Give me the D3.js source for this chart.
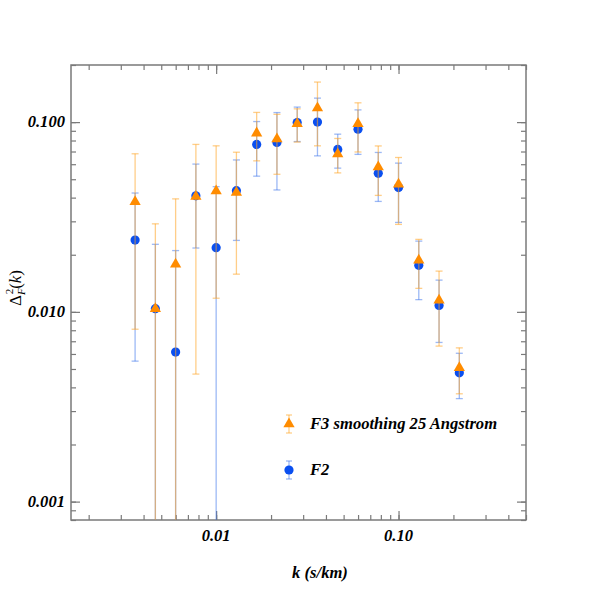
<!DOCTYPE html>
<head>
    <meta charset="utf-8">
    <style>
        body { margin: 0; background: #fff; }
        text { font-family: "Liberation Serif", "DejaVu Serif", serif; }
        .lbl { font-weight: bold; font-style: italic; font-size: 16.6px; fill: #000; }
    </style>
</head>
<body>
    <div id="chart"></div>
    <script src="https://d3js.org/d3.v7.min.js"></script>
    <script>
        // wavenumbers k (s/km)
        var kValues = [0.003594, 0.004642, 0.005995, 0.007743, 0.01, 0.012915, 0.016681, 0.021544,
                       0.027826, 0.035938, 0.046416, 0.059948, 0.077426, 0.1, 0.129155, 0.16681, 0.215443];

        // F2 (blue circles)
        var f2Values = [0.0239, 0.0104, 0.00614, 0.0409, 0.0218, 0.0435, 0.0763, 0.0781,
                        0.0995, 0.1001, 0.0718, 0.0918, 0.0537, 0.0452, 0.0176, 0.0108, 0.00477];
        var f2Errors = [0.0184, 0.0123, 0.0149, 0.0192, 0.0239, 0.0197, 0.0244, 0.0342,
                        0.0205, 0.0337, 0.0146, 0.0242, 0.0155, 0.0156, 0.0060, 0.0039, 0.00128];

        // F3 smoothing 25 Angstrom (orange triangles)
        var f3Values = [0.0381, 0.0104, 0.0178, 0.0405, 0.0434, 0.0426, 0.0875, 0.0815,
                        0.0980, 0.1188, 0.0680, 0.0980, 0.0580, 0.0470, 0.0187, 0.0115, 0.00508];
        var f3Errors = [0.0300, 0.0187, 0.0216, 0.0358, 0.0316, 0.0268, 0.0250, 0.0284,
                        0.0195, 0.0438, 0.0140, 0.0284, 0.0169, 0.0181, 0.0054, 0.0049, 0.00138];

        var xMajor = [0.01, 0.1];
        var xMajorLabels = ["0.01", "0.10"];
        var yMajor = [0.001, 0.01, 0.1];
        var yMajorLabels = ["0.001", "0.010", "0.100"];

        var W = 591, H = 591;
        var pLeft = 71, pRight = 526, pTop = 65, pBottom = 520;

        var x = d3.scaleLog().domain([0.0016, 0.5]).range([pLeft, pRight]);
        var y = d3.scaleLog().domain([0.0008, 0.2]).range([pBottom, pTop]);

        function minorTicks(scale) {
            var d = scale.domain(), out = [];
            for (var e = -4; e <= 0; e++) {
                for (var m = 1; m <= 9; m++) {
                    var v = m * Math.pow(10, e);
                    if (v >= d[0] * 0.999 && v <= d[1] * 1.001) out.push(v);
                }
            }
            return out;
        }
        var xMinor = minorTicks(x), yMinor = minorTicks(y);

        var svg = d3.select("#chart").append("svg")
            .attr("width", W).attr("height", H);

        svg.append("defs").append("clipPath").attr("id", "plotclip")
            .append("rect").attr("x", pLeft).attr("y", pTop)
            .attr("width", pRight - pLeft).attr("height", pBottom - pTop);

        var axisColor = "#7a7a7a";

        // axes: minor and major ticks on all four sides, pointing inwards
        function drawAxis(axisFn, scale, transform) {
            var minor = scale === x ? xMinor : yMinor;
            var major = scale === x ? xMajor : yMajor;
            svg.append("g").attr("transform", transform)
                .call(axisFn(scale).tickValues(minor).tickSize(-5).tickFormat(""))
                .call(function(g) { g.select(".domain").remove(); });
            svg.append("g").attr("transform", transform)
                .call(axisFn(scale).tickValues(major).tickSize(-9).tickFormat(""))
                .call(function(g) { g.select(".domain").remove(); });
        }

        drawAxis(d3.axisBottom, x, "translate(0," + pBottom + ")");
        drawAxis(d3.axisTop, x, "translate(0," + pTop + ")");
        drawAxis(d3.axisLeft, y, "translate(" + pLeft + ",0)");
        drawAxis(d3.axisRight, y, "translate(" + pRight + ",0)");

        svg.selectAll(".tick line").attr("stroke", axisColor).attr("stroke-width", 1.2);

        svg.append("rect")
            .attr("x", pLeft).attr("y", pTop)
            .attr("width", pRight - pLeft).attr("height", pBottom - pTop)
            .attr("fill", "none").attr("stroke", axisColor).attr("stroke-width", 1.5);

        // tick labels
        svg.selectAll(".xlab").data(xMajor).enter().append("text")
            .attr("class", "lbl")
            .attr("x", function(d) { return x(d); })
            .attr("y", 541)
            .attr("text-anchor", "middle")
            .text(function(d, i) { return xMajorLabels[i]; });

        svg.selectAll(".ylab").data(yMajor).enter().append("text")
            .attr("class", "lbl")
            .attr("x", 65)
            .attr("y", function(d) { return y(d) + 5; })
            .attr("text-anchor", "end")
            .text(function(d, i) { return yMajorLabels[i]; });

        // axis titles
        svg.append("text").attr("class", "lbl")
            .attr("x", 320).attr("y", 578)
            .attr("text-anchor", "middle")
            .text("k (s/km)");

        var yt = svg.append("text")
            .attr("transform", "translate(21,288) rotate(-90)")
            .attr("text-anchor", "middle")
            .attr("font-size", "17px");
        yt.append("tspan").text("\u0394");
        yt.append("tspan").attr("font-size", "11px").attr("font-style", "italic")
            .attr("dy", 4).text("F");
        yt.append("tspan").attr("font-size", "11px").attr("dy", -12).attr("dx", -6).text("2");
        yt.append("tspan").attr("dy", 8).text("(");
        yt.append("tspan").attr("font-style", "italic").text("k");
        yt.append("tspan").text(")");

        var blue = "#0a4ff0", orange = "#ff8c00";
        var blueBar = "rgba(60,115,235,0.5)", orangeBar = "rgba(255,165,40,0.55)";

        var plot = svg.append("g").attr("clip-path", "url(#plotclip)");

        function drawSeries(vals, errs, barColor) {
            var rows = kValues.map(function(k, i) {
                return {k: k, v: vals[i], lo: vals[i] - errs[i], hi: vals[i] + errs[i]};
            });
            var g = plot.append("g");
            g.selectAll(".bar").data(rows).enter().append("line")
                .attr("x1", function(d) { return x(d.k); })
                .attr("x2", function(d) { return x(d.k); })
                .attr("y1", function(d) { return y(d.hi); })
                .attr("y2", function(d) { return d.lo > 0 ? y(d.lo) : pBottom + 2; })
                .attr("stroke", barColor).attr("stroke-width", 1.3);
            g.selectAll(".captop").data(rows).enter().append("line")
                .attr("x1", function(d) { return x(d.k) - 3.5; })
                .attr("x2", function(d) { return x(d.k) + 3.5; })
                .attr("y1", function(d) { return y(d.hi); })
                .attr("y2", function(d) { return y(d.hi); })
                .attr("stroke", barColor).attr("stroke-width", 1.3);
            g.selectAll(".capbot").data(rows.filter(function(d) { return d.lo > 0; })).enter().append("line")
                .attr("x1", function(d) { return x(d.k) - 3.5; })
                .attr("x2", function(d) { return x(d.k) + 3.5; })
                .attr("y1", function(d) { return y(d.lo); })
                .attr("y2", function(d) { return y(d.lo); })
                .attr("stroke", barColor).attr("stroke-width", 1.3);
            return {g: g, rows: rows};
        }

        var triangle = d3.symbol().type(d3.symbolTriangle).size(55);

        var s2 = drawSeries(f2Values, f2Errors, blueBar);
        s2.g.selectAll(".pt").data(s2.rows).enter().append("circle")
            .attr("cx", function(d) { return x(d.k); })
            .attr("cy", function(d) { return y(d.v); })
            .attr("r", 4.6).attr("fill", blue);

        var s3 = drawSeries(f3Values, f3Errors, orangeBar);
        s3.g.selectAll(".pt").data(s3.rows).enter().append("path")
            .attr("d", triangle)
            .attr("transform", function(d) { return "translate(" + x(d.k) + "," + y(d.v) + ")"; })
            .attr("fill", orange);

        // legend
        var legend = svg.append("g");
        function legendEntry(cy, barColor, marker, label) {
            legend.append("line").attr("x1", 289).attr("x2", 289).attr("y1", cy - 9).attr("y2", cy + 9)
                .attr("stroke", barColor).attr("stroke-width", 1.3);
            [cy - 9, cy + 9].forEach(function(yy) {
                legend.append("line").attr("x1", 286).attr("x2", 292).attr("y1", yy).attr("y2", yy)
                    .attr("stroke", barColor).attr("stroke-width", 1.3);
            });
            marker(cy);
            legend.append("text").attr("class", "lbl")
                .attr("x", 310).attr("y", cy + 5).text(label);
        }
        legendEntry(424, orangeBar, function(cy) {
            legend.append("path").attr("d", triangle)
                .attr("transform", "translate(289," + cy + ")").attr("fill", orange);
        }, "F3 smoothing 25 Angstrom");
        legendEntry(470, blueBar, function(cy) {
            legend.append("circle").attr("cx", 289).attr("cy", cy).attr("r", 4.6).attr("fill", blue);
        }, "F2");
    </script>
</body>
